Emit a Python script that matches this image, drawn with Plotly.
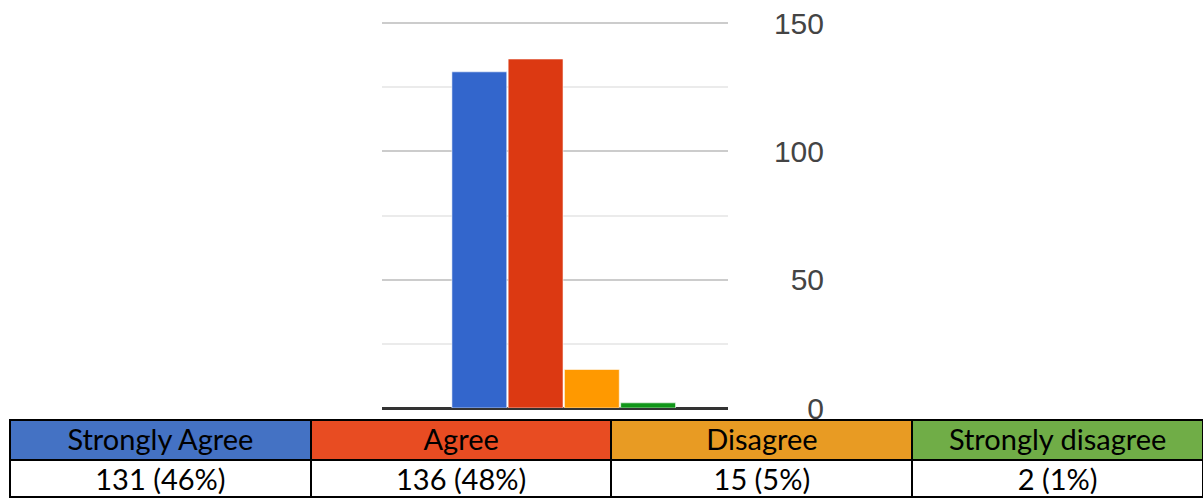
import plotly.graph_objects as go

categories = ["Strongly Agree", "Agree", "Disagree", "Strongly disagree"]
counts = [131, 136, 15, 2]
percents = [46, 48, 5, 1]
y_ticks = [0, 50, 100, 150]

bar_colors = ["#3366cc", "#dc3912", "#ff9900", "#109618"]
header_colors = ["#4472c4", "#e84c22", "#e89b23", "#70ad47"]

W, H = 1203, 498

fig = go.Figure()
fig.add_trace(go.Bar(
    x=categories, y=counts,
    marker=dict(color=bar_colors, line=dict(color="rgba(255,255,255,0.55)", width=1)),
    xaxis="x", yaxis="y", showlegend=False, hoverinfo="skip",
))

cell_text = [f"{c} ({p}%)" for c, p in zip(counts, percents)]
tfont = dict(family="Lato, Carlito, sans-serif", size=29, color="black")
fig.add_trace(go.Table(
    domain=dict(x=[10 / W, 1.0], y=[0, 78 / H]),
    columnwidth=[301, 301, 301, 291],
    header=dict(
        values=categories,
        fill_color=header_colors,
        line=dict(color="black", width=2),
        align="center",
        height=40,
        font=tfont,
    ),
    cells=dict(
        values=[[t] for t in cell_text],
        fill_color="white",
        line=dict(color="black", width=2),
        align="center",
        height=37,
        font=tfont,
    ),
))

fig.update_layout(
    width=W, height=H,
    autosize=False,
    margin=dict(l=0, r=0, t=0, b=0, pad=0, autoexpand=False),
    paper_bgcolor="white", plot_bgcolor="white",
    bargap=0.025,
    xaxis=dict(
        domain=[382 / W, 728 / W],
        type="category",
        range=[-1.73, 4.42],
        showticklabels=False, showgrid=False, zeroline=False, showline=False,
        ticks="", automargin=False,
    ),
    yaxis=dict(
        domain=[(H - 408) / H, (H - 20) / H],
        range=[0, 151.2],
        tickvals=y_ticks,
        anchor="free", position=824 / W, side="left",
        showline=False, ticks="", automargin=False,
        tickfont=dict(family="Liberation Sans, Arial, sans-serif", size=30, color="#444444"),
        showgrid=True, gridcolor="#cccccc", gridwidth=2,
        minor=dict(dtick=25, showgrid=True, gridcolor="#ebebeb", gridwidth=2),
        zeroline=True, zerolinecolor="#333333", zerolinewidth=3,
    ),
)

fig.write_html(
    "out.html",
    config={"displayModeBar": False, "responsive": False},
    post_script="document.body.style.margin='0';document.body.style.overflow='hidden';",
)
